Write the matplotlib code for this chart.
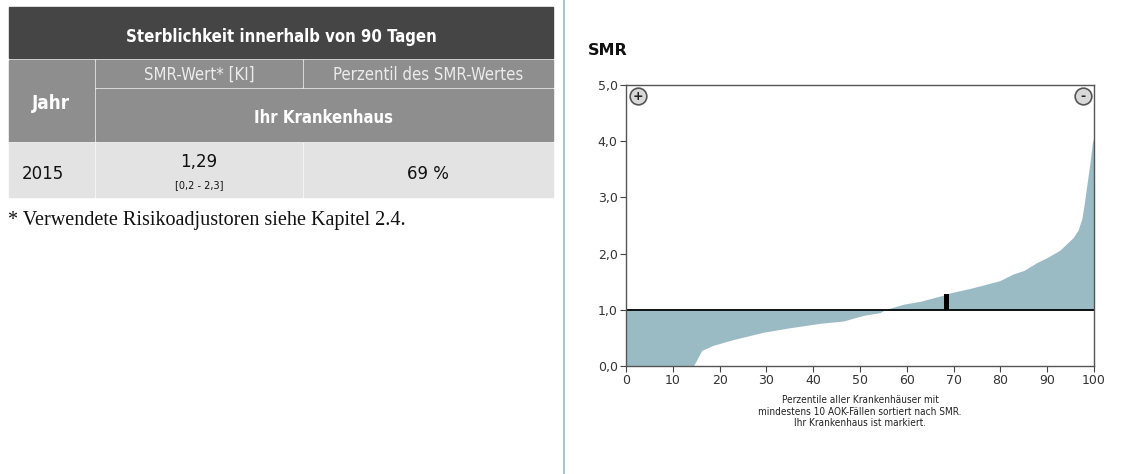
import matplotlib.pyplot as plt
from matplotlib.patches import Rectangle

# Daten
perzentil = [0, 14.4, 16.2, 18.7, 22.9, 29.3, 35.0, 41.5, 46.4, 50.7, 54.3, 55.3,
             59.3, 62.8, 67.8, 69.2, 73.5, 76.3, 79.9, 82.8, 85.0, 88.0, 90.0,
             92.7, 95.6, 96.6, 97.4, 97.9, 98.4, 99.1, 99.7, 100]
smr = [0, 0, 0.28, 0.37, 0.47, 0.60, 0.68, 0.76, 0.80, 0.90, 0.95, 1.00,
       1.10, 1.15, 1.26, 1.30, 1.38, 1.44, 1.52, 1.64, 1.70, 1.85, 1.93,
       2.06, 2.29, 2.42, 2.62, 2.88, 3.18, 3.59, 4.00, 4.05]
haus_perzentil = 68.5
haus_smr = 1.29
yticks = [0, 1, 2, 3, 4, 5]
xticks = [0, 10, 20, 30, 40, 50, 60, 70, 80, 90, 100]

titel = "Sterblichkeit innerhalb von 90 Tagen"
jahr = "2015"
smr_wert = "1,29"
ki = "[0,2 - 2,3]"
perzentil_txt = "69 %"

fig = plt.figure(figsize=(11.25, 4.74), dpi=100)

# Hintergrund-Achse in Pixeln fuer Tabelle
bg = fig.add_axes([0, 0, 1, 1])
bg.set_xlim(0, 1125)
bg.set_ylim(474, 0)
bg.axis("off")

dark = "#454545"
mid = "#8e8e8e"
light = "#e3e3e3"
cond = dict(family="DejaVu Sans", stretch="condensed")

bg.add_patch(Rectangle((9, 7), 544, 51, color=dark))
bg.add_patch(Rectangle((9, 60), 85, 81, color=mid))
bg.add_patch(Rectangle((96, 60), 206, 27, color=mid))
bg.add_patch(Rectangle((304, 60), 249, 27, color=mid))
bg.add_patch(Rectangle((96, 89), 457, 52, color=mid))
bg.add_patch(Rectangle((9, 143), 85, 54, color=light))
bg.add_patch(Rectangle((96, 143), 206, 54, color=light))
bg.add_patch(Rectangle((304, 143), 249, 54, color=light))

bg.text(281, 37, titel, color="white", fontsize=12, fontweight="bold", ha="center", va="center", **cond)
bg.text(199, 75, "SMR-Wert* [KI]", color="#ececec", fontsize=12, ha="center", va="center", **cond)
bg.text(428, 75, "Perzentil des SMR-Wertes", color="#ececec", fontsize=12, ha="center", va="center", **cond)
bg.text(51, 103, "Jahr", color="white", fontsize=13.5, fontweight="bold", ha="center", va="center", **cond)
bg.text(324, 118, "Ihr Krankenhaus", color="white", fontsize=12, fontweight="bold", ha="center", va="center", **cond)
bg.text(22, 174, jahr, color="#111111", fontsize=12, ha="left", va="center")
bg.text(199, 162, smr_wert, color="#111111", fontsize=12, ha="center", va="center")
bg.text(199, 185, ki, color="#111111", fontsize=7, ha="center", va="center")
bg.text(428, 174, perzentil_txt, color="#111111", fontsize=12, ha="center", va="center")
bg.text(8, 220, "* Verwendete Risikoadjustoren siehe Kapitel 2.4.", color="#111111",
        fontsize=14.5, family="Liberation Serif", ha="left", va="center")

# Trennlinie
bg.plot([564, 564], [0, 474], color="#a9c5d1", lw=1.5)

bg.text(588, 50, "SMR", fontsize=11.5, fontweight="bold", ha="left", va="center", color="#111111")

# Diagramm
ax = fig.add_axes([626 / 1125, 1 - 366 / 474, 468 / 1125, 281 / 474])
ax.fill_between(perzentil, smr, 1.0, color="#9bbbc4", lw=0)
ax.axhline(1.0, color="black", lw=1.3)
ax.bar(haus_perzentil, haus_smr - 1.0, bottom=1.0, width=1.07, color="black")
ax.set_xlim(0, 100)
ax.set_ylim(0, 5)
ax.set_yticks(yticks)
ax.set_yticklabels([f"{v:.1f}".replace(".", ",") for v in yticks])
ax.set_xticks(xticks)
ax.tick_params(labelsize=9, labelcolor="#333333", length=4, color="#444444", pad=2)
for s in ax.spines.values():
    s.set_color("#555555")
    s.set_linewidth(1.0)

# Symbole +/-
for xc, sym in [(2.5, "+"), (97.6, "-")]:
    ax.plot(xc, 4.8, "o", ms=12, mfc="#d8d8d8", mec="#555555", mew=1.2)
    ax.text(xc, 4.8, sym, ha="center", va="center", fontsize=9, fontweight="bold", color="#222222")

ax.text(50, -0.52, "Perzentile aller Krankenhäuser mit\nmindestens 10 AOK-Fällen sortiert nach SMR.\nIhr Krankenhaus ist markiert.",
        ha="center", va="top", fontsize=7.2, linespacing=1.2, color="#222222", **cond)

fig.savefig("out.png", dpi=100)
